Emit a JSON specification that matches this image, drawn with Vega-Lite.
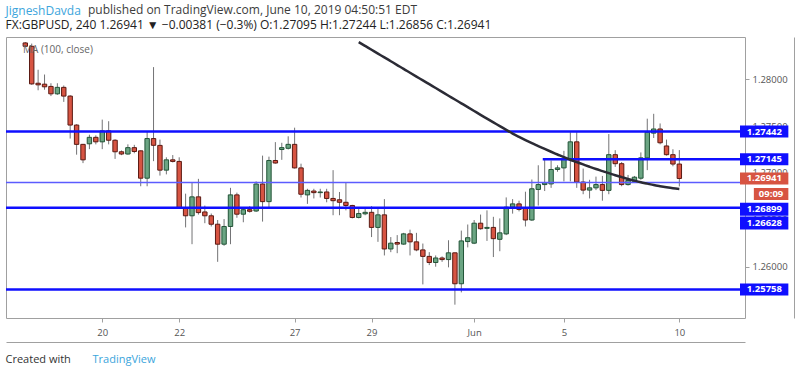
{
  "$schema": "https://vega.github.io/schema/vega-lite/v6.json",
  "width": 739,
  "height": 281,
  "autosize": {"type": "none"},
  "padding": {"left": 6, "top": 37, "right": 55, "bottom": 57},
  "background": "#ffffff",
  "config": {
    "font": "Open Sans",
    "view": {"stroke": "#a0a0a0", "strokeWidth": 1},
    "axis": {"grid": false, "labelFont": "Open Sans", "labelFontSize": 9.5, "labelColor": "#555555", "tickColor": "#a0a0a0", "domainColor": "#a0a0a0", "titleFont": "Open Sans", "titleFontWeight": "normal"}
  },
  "datasets": {
    "candles": [
      {"i": -12, "o": 1.28387, "h": 1.28397, "l": 1.28345, "c": 1.28351},
      {"i": -11, "o": 1.28351, "h": 1.28380, "l": 1.27940, "c": 1.27950},
      {"i": -10, "o": 1.27957, "h": 1.28101, "l": 1.27882, "c": 1.27940},
      {"i": -9, "o": 1.27947, "h": 1.28050, "l": 1.27888, "c": 1.27919},
      {"i": -8, "o": 1.27923, "h": 1.27957, "l": 1.27820, "c": 1.27844},
      {"i": -7, "o": 1.27844, "h": 1.27957, "l": 1.27833, "c": 1.27913},
      {"i": -6, "o": 1.27913, "h": 1.27933, "l": 1.27758, "c": 1.27820},
      {"i": -5, "o": 1.27820, "h": 1.27830, "l": 1.27367, "c": 1.27511},
      {"i": -4, "o": 1.27511, "h": 1.27520, "l": 1.27195, "c": 1.27305},
      {"i": -3, "o": 1.27305, "h": 1.27310, "l": 1.27105, "c": 1.27140},
      {"i": -2, "o": 1.27311, "h": 1.27408, "l": 1.27254, "c": 1.27380},
      {"i": -1, "o": 1.27380, "h": 1.27401, "l": 1.27305, "c": 1.27332},
      {"i": 0, "o": 1.27332, "h": 1.27569, "l": 1.27254, "c": 1.27449},
      {"i": 1, "o": 1.27449, "h": 1.27552, "l": 1.27305, "c": 1.27349},
      {"i": 2, "o": 1.27349, "h": 1.27360, "l": 1.27150, "c": 1.27226},
      {"i": 3, "o": 1.27226, "h": 1.27240, "l": 1.27190, "c": 1.27202},
      {"i": 4, "o": 1.27202, "h": 1.27305, "l": 1.27195, "c": 1.27270},
      {"i": 5, "o": 1.27270, "h": 1.27300, "l": 1.27210, "c": 1.27229},
      {"i": 6, "o": 1.27236, "h": 1.27240, "l": 1.26858, "c": 1.26944},
      {"i": 7, "o": 1.26944, "h": 1.27442, "l": 1.26858, "c": 1.27367},
      {"i": 8, "o": 1.27367, "h": 1.28129, "l": 1.27126, "c": 1.27295},
      {"i": 9, "o": 1.27294, "h": 1.27356, "l": 1.26972, "c": 1.27030},
      {"i": 10, "o": 1.27030, "h": 1.27167, "l": 1.26985, "c": 1.27140},
      {"i": 11, "o": 1.27140, "h": 1.27191, "l": 1.27112, "c": 1.27123},
      {"i": 12, "o": 1.27123, "h": 1.27167, "l": 1.26618, "c": 1.26625},
      {"i": 13, "o": 1.26625, "h": 1.26779, "l": 1.26419, "c": 1.26543},
      {"i": 14, "o": 1.26543, "h": 1.26893, "l": 1.26240, "c": 1.26745},
      {"i": 15, "o": 1.26745, "h": 1.26937, "l": 1.26556, "c": 1.26577},
      {"i": 16, "o": 1.26584, "h": 1.26652, "l": 1.26464, "c": 1.26543},
      {"i": 17, "o": 1.26543, "h": 1.26567, "l": 1.26429, "c": 1.26453},
      {"i": 18, "o": 1.26453, "h": 1.26498, "l": 1.26052, "c": 1.26240},
      {"i": 19, "o": 1.26240, "h": 1.26508, "l": 1.26223, "c": 1.26429},
      {"i": 20, "o": 1.26429, "h": 1.26841, "l": 1.26240, "c": 1.26766},
      {"i": 21, "o": 1.26766, "h": 1.26790, "l": 1.26522, "c": 1.26560},
      {"i": 22, "o": 1.26560, "h": 1.26625, "l": 1.26474, "c": 1.26608},
      {"i": 23, "o": 1.26608, "h": 1.26646, "l": 1.26577, "c": 1.26591},
      {"i": 24, "o": 1.26594, "h": 1.26910, "l": 1.26584, "c": 1.26882},
      {"i": 25, "o": 1.26882, "h": 1.27185, "l": 1.26481, "c": 1.26694},
      {"i": 26, "o": 1.26694, "h": 1.27174, "l": 1.26635, "c": 1.27133},
      {"i": 27, "o": 1.27133, "h": 1.27329, "l": 1.27099, "c": 1.27106},
      {"i": 28, "o": 1.27250, "h": 1.27322, "l": 1.27140, "c": 1.27270},
      {"i": 29, "o": 1.27263, "h": 1.27391, "l": 1.27250, "c": 1.27305},
      {"i": 30, "o": 1.27305, "h": 1.27483, "l": 1.27047, "c": 1.27054},
      {"i": 31, "o": 1.27054, "h": 1.27099, "l": 1.26738, "c": 1.26773},
      {"i": 32, "o": 1.26766, "h": 1.26831, "l": 1.26670, "c": 1.26814},
      {"i": 33, "o": 1.26807, "h": 1.26831, "l": 1.26728, "c": 1.26790},
      {"i": 34, "o": 1.26790, "h": 1.26831, "l": 1.26738, "c": 1.26797},
      {"i": 35, "o": 1.26797, "h": 1.26831, "l": 1.26687, "c": 1.26728},
      {"i": 36, "o": 1.26728, "h": 1.27030, "l": 1.26549, "c": 1.26704},
      {"i": 37, "o": 1.26714, "h": 1.26797, "l": 1.26549, "c": 1.26687},
      {"i": 38, "o": 1.26687, "h": 1.26893, "l": 1.26601, "c": 1.26653},
      {"i": 39, "o": 1.26653, "h": 1.26660, "l": 1.26515, "c": 1.26525},
      {"i": 40, "o": 1.26525, "h": 1.26625, "l": 1.26515, "c": 1.26567},
      {"i": 41, "o": 1.26564, "h": 1.26618, "l": 1.26549, "c": 1.26580},
      {"i": 42, "o": 1.26580, "h": 1.26646, "l": 1.26316, "c": 1.26419},
      {"i": 43, "o": 1.26419, "h": 1.26625, "l": 1.26265, "c": 1.26553},
      {"i": 44, "o": 1.26553, "h": 1.26721, "l": 1.26120, "c": 1.26189},
      {"i": 45, "o": 1.26189, "h": 1.26316, "l": 1.26155, "c": 1.26251},
      {"i": 46, "o": 1.26258, "h": 1.26337, "l": 1.26144, "c": 1.26241},
      {"i": 47, "o": 1.26241, "h": 1.26361, "l": 1.26234, "c": 1.26350},
      {"i": 48, "o": 1.26350, "h": 1.26395, "l": 1.26120, "c": 1.26265},
      {"i": 49, "o": 1.26265, "h": 1.26361, "l": 1.26165, "c": 1.26179},
      {"i": 50, "o": 1.26179, "h": 1.26247, "l": 1.25811, "c": 1.26110},
      {"i": 51, "o": 1.26110, "h": 1.26155, "l": 1.26017, "c": 1.26045},
      {"i": 52, "o": 1.26045, "h": 1.26120, "l": 1.26000, "c": 1.26093},
      {"i": 53, "o": 1.26093, "h": 1.26110, "l": 1.26052, "c": 1.26076},
      {"i": 54, "o": 1.26076, "h": 1.26282, "l": 1.25993, "c": 1.26148},
      {"i": 55, "o": 1.26148, "h": 1.26150, "l": 1.25595, "c": 1.25818},
      {"i": 56, "o": 1.25818, "h": 1.26385, "l": 1.25726, "c": 1.26275},
      {"i": 57, "o": 1.26268, "h": 1.26450, "l": 1.26206, "c": 1.26309},
      {"i": 58, "o": 1.26251, "h": 1.26498, "l": 1.26241, "c": 1.26464},
      {"i": 59, "o": 1.26464, "h": 1.26556, "l": 1.26395, "c": 1.26405},
      {"i": 60, "o": 1.26409, "h": 1.26601, "l": 1.26275, "c": 1.26419},
      {"i": 61, "o": 1.26419, "h": 1.26532, "l": 1.26103, "c": 1.26299},
      {"i": 62, "o": 1.26292, "h": 1.26515, "l": 1.26165, "c": 1.26361},
      {"i": 63, "o": 1.26350, "h": 1.26739, "l": 1.26337, "c": 1.26635},
      {"i": 64, "o": 1.26635, "h": 1.26721, "l": 1.26566, "c": 1.26670},
      {"i": 65, "o": 1.26670, "h": 1.26704, "l": 1.26590, "c": 1.26611},
      {"i": 66, "o": 1.26625, "h": 1.26800, "l": 1.26429, "c": 1.26498},
      {"i": 67, "o": 1.26498, "h": 1.26930, "l": 1.26488, "c": 1.26831},
      {"i": 68, "o": 1.26824, "h": 1.27082, "l": 1.26652, "c": 1.26876},
      {"i": 69, "o": 1.26876, "h": 1.27140, "l": 1.26807, "c": 1.26893},
      {"i": 70, "o": 1.26883, "h": 1.27133, "l": 1.26841, "c": 1.27037},
      {"i": 71, "o": 1.27037, "h": 1.27082, "l": 1.27013, "c": 1.27054},
      {"i": 72, "o": 1.27054, "h": 1.27236, "l": 1.26910, "c": 1.27150},
      {"i": 73, "o": 1.27150, "h": 1.27435, "l": 1.26910, "c": 1.27332},
      {"i": 74, "o": 1.27332, "h": 1.27435, "l": 1.26841, "c": 1.26903},
      {"i": 75, "o": 1.26903, "h": 1.27047, "l": 1.26773, "c": 1.26817},
      {"i": 76, "o": 1.26817, "h": 1.26927, "l": 1.26728, "c": 1.26841},
      {"i": 77, "o": 1.26841, "h": 1.26961, "l": 1.26817, "c": 1.26876},
      {"i": 78, "o": 1.26876, "h": 1.26968, "l": 1.26704, "c": 1.26814},
      {"i": 79, "o": 1.26814, "h": 1.27415, "l": 1.26773, "c": 1.27195},
      {"i": 80, "o": 1.27195, "h": 1.27243, "l": 1.27065, "c": 1.27099},
      {"i": 81, "o": 1.27099, "h": 1.27116, "l": 1.26858, "c": 1.26876},
      {"i": 82, "o": 1.26876, "h": 1.26979, "l": 1.26865, "c": 1.26920},
      {"i": 83, "o": 1.26910, "h": 1.26968, "l": 1.26900, "c": 1.26955},
      {"i": 84, "o": 1.26944, "h": 1.27219, "l": 1.26927, "c": 1.27161},
      {"i": 85, "o": 1.27161, "h": 1.27579, "l": 1.27030, "c": 1.27435},
      {"i": 86, "o": 1.27425, "h": 1.27631, "l": 1.27373, "c": 1.27469},
      {"i": 87, "o": 1.27469, "h": 1.27528, "l": 1.27305, "c": 1.27322},
      {"i": 88, "o": 1.27288, "h": 1.27356, "l": 1.27185, "c": 1.27195},
      {"i": 89, "o": 1.27195, "h": 1.27253, "l": 1.27071, "c": 1.27095},
      {"i": 90, "o": 1.27095, "h": 1.27244, "l": 1.26856, "c": 1.26941}
    ],
    "ma": [
      {"i": 40, "ma": 1.28396}, {"i": 41, "ma": 1.28355}, {"i": 42, "ma": 1.28314}, {"i": 43, "ma": 1.28273},
      {"i": 44, "ma": 1.28233}, {"i": 45, "ma": 1.28192}, {"i": 46, "ma": 1.28151}, {"i": 47, "ma": 1.28111},
      {"i": 48, "ma": 1.28069}, {"i": 49, "ma": 1.28028}, {"i": 50, "ma": 1.27988}, {"i": 51, "ma": 1.27947},
      {"i": 52, "ma": 1.27906}, {"i": 53, "ma": 1.27865}, {"i": 54, "ma": 1.27824}, {"i": 55, "ma": 1.27784},
      {"i": 56, "ma": 1.27743}, {"i": 57, "ma": 1.27702}, {"i": 58, "ma": 1.27661}, {"i": 59, "ma": 1.27620},
      {"i": 60, "ma": 1.27580}, {"i": 61, "ma": 1.27540}, {"i": 62, "ma": 1.27500}, {"i": 63, "ma": 1.27460},
      {"i": 64, "ma": 1.27420}, {"i": 65, "ma": 1.27385}, {"i": 66, "ma": 1.27351}, {"i": 67, "ma": 1.27318},
      {"i": 68, "ma": 1.27287}, {"i": 69, "ma": 1.27256}, {"i": 70, "ma": 1.27226}, {"i": 71, "ma": 1.27197},
      {"i": 72, "ma": 1.27168}, {"i": 73, "ma": 1.27141}, {"i": 74, "ma": 1.27116}, {"i": 75, "ma": 1.27091},
      {"i": 76, "ma": 1.27066}, {"i": 77, "ma": 1.27042}, {"i": 78, "ma": 1.27020}, {"i": 79, "ma": 1.26998},
      {"i": 80, "ma": 1.26976}, {"i": 81, "ma": 1.26956}, {"i": 82, "ma": 1.26936}, {"i": 83, "ma": 1.26918},
      {"i": 84, "ma": 1.26901}, {"i": 85, "ma": 1.26886}, {"i": 86, "ma": 1.26871}, {"i": 87, "ma": 1.26859},
      {"i": 88, "ma": 1.26848}, {"i": 89, "ma": 1.26838}, {"i": 90, "ma": 1.26830}
    ],
    "levels": [
      {"price": 1.27442},
      {"price": 1.27145, "from": 68.7},
      {"price": 1.26899},
      {"price": 1.26628},
      {"price": 1.25758}
    ],
    "tags": [
      {"tag": "last", "label": "1.26941", "price": 1.26941},
      {"tag": "countdown", "label": "09:09", "price": 1.26941}
    ]
  },
  "layer": [
    {
      "data": {"name": "candles"},
      "mark": {"type": "rule", "color": "#737375", "strokeWidth": 1},
      "encoding": {
        "x": {"field": "i", "type": "quantitative", "scale": {"domain": [-14.23, 99.46], "nice": false, "zero": false},
          "axis": {"orient": "bottom", "values": [0, 12, 30, 42, 58, 72, 90],
            "labelExpr": "datum.value == 0 ? '20' : datum.value == 12 ? '22' : datum.value == 30 ? '27' : datum.value == 42 ? '29' : datum.value == 58 ? 'Jun' : datum.value == 72 ? '5' : '10'",
            "tickSize": 4, "labelPadding": 5, "domain": false, "labelFlush": false,
            "title": "Created with", "titleX": -1, "titleY": 44, "titleAlign": "left", "titleAnchor": "start", "titleBaseline": "alphabetic", "titleFontSize": 11, "titleColor": "#333333"}},
        "y": {"field": "l", "type": "quantitative", "scale": {"domain": [1.25506, 1.28397], "nice": false, "zero": false},
          "axis": {"orient": "right", "values": [1.26, 1.265, 1.27, 1.275, 1.28], "format": ".5f", "tickSize": 4, "labelPadding": 3, "domain": false,
            "title": "JigneshDavda", "titleAngle": 0, "titleX": -740, "titleY": -23, "titleAlign": "left", "titleBaseline": "alphabetic", "titleFontSize": 12, "titleColor": "#3ca5dc"}},
        "y2": {"field": "h"}
      }
    },
    {
      "data": {"name": "candles"},
      "mark": {"type": "bar", "width": 4.4, "strokeWidth": 1},
      "encoding": {
        "x": {"field": "i", "type": "quantitative", "scale": {"domain": [-14.23, 99.46], "nice": false, "zero": false}, "axis": null},
        "y": {"field": "o", "type": "quantitative", "scale": {"domain": [1.25506, 1.28397], "nice": false, "zero": false}, "axis": null},
        "y2": {"field": "c"},
        "fill": {"condition": {"test": "datum.c >= datum.o", "value": "#6ba583"}, "value": "#d75442"},
        "stroke": {"condition": {"test": "datum.c >= datum.o", "value": "#225437"}, "value": "#5b1a13"}
      }
    },
    {
      "data": {"name": "levels"},
      "transform": [{"filter": "!isValid(datum.from) && datum.price != 1.26899"}],
      "mark": {"type": "rule", "color": "#0f0fff", "strokeWidth": 2.5},
      "encoding": {
        "y": {"field": "price", "type": "quantitative", "scale": {"domain": [1.25506, 1.28397], "nice": false, "zero": false},
          "axis": {"orient": "left", "labels": false, "ticks": false, "domain": false,
            "title": "TradingView", "titleAngle": 0, "titleX": 86, "titleY": 325, "titleAlign": "left", "titleBaseline": "alphabetic", "titleFontSize": 11, "titleColor": "#3ca5dc"}}
      }
    },
    {
      "data": {"name": "levels"},
      "transform": [{"filter": "datum.price == 1.26899"}],
      "mark": {"type": "rule", "color": "#5c5cff", "strokeWidth": 1.5},
      "encoding": {
        "y": {"field": "price", "type": "quantitative", "scale": {"domain": [1.25506, 1.28397], "nice": false, "zero": false}, "axis": null},
        "strokeDash": {"datum": " ", "type": "nominal", "scale": {"range": [[1, 0]]},
          "legend": {"orient": "none", "legendX": 82, "legendY": -32, "padding": 0,
            "title": "published on TradingView.com, June 10, 2019 04:50:51 EDT",
            "titleFont": "Open Sans", "titleFontSize": 12, "titleFontWeight": "normal", "titleColor": "#3c3c3c", "titleBaseline": "top", "titleLimit": 500,
            "labelOpacity": 0, "symbolOpacity": 0, "symbolSize": 0, "symbolStrokeWidth": 0}}
      }
    },
    {
      "data": {"name": "levels"},
      "transform": [{"filter": "isValid(datum.from)"}],
      "mark": {"type": "rule", "color": "#0f0fff", "strokeWidth": 2.5},
      "encoding": {
        "x": {"field": "from", "type": "quantitative", "scale": {"domain": [-14.23, 99.46], "nice": false, "zero": false},
          "axis": {"orient": "bottom", "offset": 24, "labels": false, "ticks": false, "domain": true, "title": null}},
        "x2": {"datum": 99.46},
        "y": {"field": "price", "type": "quantitative", "scale": {"domain": [1.25506, 1.28397], "nice": false, "zero": false},
          "axis": {"orient": "right", "offset": 49, "labels": false, "ticks": false, "domain": true, "title": null}}
      }
    },
    {
      "data": {"name": "ma"},
      "mark": {"type": "line", "strokeWidth": 2.5, "interpolate": "monotone"},
      "encoding": {
        "x": {"field": "i", "type": "quantitative", "scale": {"domain": [-14.23, 99.46], "nice": false, "zero": false},
          "axis": {"orient": "top", "labels": false, "ticks": false, "domain": false,
            "title": "FX:GBPUSD, 240  1.26941 ▼ −0.00381 (−0.3%)  O:1.27095  H:1.27244  L:1.26856  C:1.26941",
            "titleX": -1, "titleY": -9, "titleAlign": "left", "titleBaseline": "alphabetic", "titleFontSize": 12, "titleColor": "#222222"}},
        "y": {"field": "ma", "type": "quantitative", "scale": {"domain": [1.25506, 1.28397], "nice": false, "zero": false}, "axis": null},
        "color": {"datum": "MA (100, close)", "type": "nominal", "scale": {"range": ["#2b2b35"]},
          "legend": {"orient": "none", "legendX": 7, "legendY": 8, "title": null, "symbolSize": 0, "symbolStrokeWidth": 0, "symbolOpacity": 0, "labelOffset": 0, "padding": 0, "labelFontSize": 10, "labelColor": "#666666", "labelFont": "Open Sans"}}
      }
    },
    {
      "data": {"name": "levels"},
      "transform": [{"filter": "datum.price != 1.26899 && datum.price != 1.26628"}],
      "layer": [
        {
          "mark": {"type": "bar", "orient": "horizontal", "height": 12, "color": "#0f0fff"},
          "encoding": {
            "x": {"datum": 99.46, "type": "quantitative", "scale": {"domain": [-14.23, 99.46], "nice": false, "zero": false}, "axis": null},
            "x2": {"datum": 107},
            "y": {"field": "price", "type": "quantitative", "scale": {"domain": [1.25506, 1.28397], "nice": false, "zero": false}, "axis": null}
          }
        },
        {
          "mark": {"type": "text", "align": "left", "baseline": "middle", "color": "#ffffff", "fontSize": 9.5, "fontWeight": "bold"},
          "encoding": {
            "x": {"datum": 100.5, "type": "quantitative", "scale": {"domain": [-14.23, 99.46], "nice": false, "zero": false}, "axis": null},
            "y": {"field": "price", "type": "quantitative", "scale": {"domain": [1.25506, 1.28397], "nice": false, "zero": false}, "axis": null},
            "text": {"field": "price", "type": "quantitative", "format": ".5f"}
          }
        }
      ]
    },
    {
      "data": {"name": "levels"},
      "transform": [{"filter": "datum.price == 1.26899"}],
      "layer": [
        {
          "mark": {"type": "bar", "orient": "horizontal", "height": 13, "color": "#0f0fff", "yOffset": 26.8},
          "encoding": {
            "x": {"datum": 99.46, "type": "quantitative", "scale": {"domain": [-14.23, 99.46], "nice": false, "zero": false}, "axis": null},
            "x2": {"datum": 107},
            "y": {"field": "price", "type": "quantitative", "scale": {"domain": [1.25506, 1.28397], "nice": false, "zero": false}, "axis": null}
          }
        },
        {
          "mark": {"type": "text", "align": "left", "baseline": "middle", "color": "#ffffff", "fontSize": 9.5, "fontWeight": "bold", "yOffset": 26.8},
          "encoding": {
            "x": {"datum": 100.5, "type": "quantitative", "scale": {"domain": [-14.23, 99.46], "nice": false, "zero": false}, "axis": null},
            "y": {"field": "price", "type": "quantitative", "scale": {"domain": [1.25506, 1.28397], "nice": false, "zero": false}, "axis": null},
            "text": {"field": "price", "type": "quantitative", "format": ".5f"}
          }
        }
      ]
    },
    {
      "data": {"name": "levels"},
      "transform": [{"filter": "datum.price == 1.26628"}],
      "layer": [
        {
          "mark": {"type": "bar", "orient": "horizontal", "height": 13, "color": "#0f0fff", "yOffset": 15.3},
          "encoding": {
            "x": {"datum": 99.46, "type": "quantitative", "scale": {"domain": [-14.23, 99.46], "nice": false, "zero": false}, "axis": null},
            "x2": {"datum": 107},
            "y": {"field": "price", "type": "quantitative", "scale": {"domain": [1.25506, 1.28397], "nice": false, "zero": false}, "axis": null}
          }
        },
        {
          "mark": {"type": "text", "align": "left", "baseline": "middle", "color": "#ffffff", "fontSize": 9.5, "fontWeight": "bold", "yOffset": 15.3},
          "encoding": {
            "x": {"datum": 100.5, "type": "quantitative", "scale": {"domain": [-14.23, 99.46], "nice": false, "zero": false}, "axis": null},
            "y": {"field": "price", "type": "quantitative", "scale": {"domain": [1.25506, 1.28397], "nice": false, "zero": false}, "axis": null},
            "text": {"field": "price", "type": "quantitative", "format": ".5f"}
          }
        }
      ]
    },
    {
      "data": {"name": "tags"},
      "transform": [{"filter": "datum.tag == 'last'"}],
      "layer": [
        {
          "mark": {"type": "bar", "orient": "horizontal", "height": 12, "color": "#d75442"},
          "encoding": {
            "x": {"datum": 99.46, "type": "quantitative", "scale": {"domain": [-14.23, 99.46], "nice": false, "zero": false}, "axis": null},
            "x2": {"datum": 107},
            "y": {"field": "price", "type": "quantitative", "scale": {"domain": [1.25506, 1.28397], "nice": false, "zero": false}, "axis": null}
          }
        },
        {
          "mark": {"type": "text", "align": "left", "baseline": "middle", "color": "#ffffff", "fontSize": 9.5, "fontWeight": "bold"},
          "encoding": {
            "x": {"datum": 100.5, "type": "quantitative", "scale": {"domain": [-14.23, 99.46], "nice": false, "zero": false}, "axis": null},
            "y": {"field": "price", "type": "quantitative", "scale": {"domain": [1.25506, 1.28397], "nice": false, "zero": false}, "axis": null},
            "text": {"field": "label", "type": "nominal"}
          }
        }
      ]
    },
    {
      "data": {"name": "tags"},
      "transform": [{"filter": "datum.tag == 'countdown'"}],
      "layer": [
        {
          "mark": {"type": "bar", "orient": "horizontal", "height": 12, "color": "#d75442", "yOffset": 15.5},
          "encoding": {
            "x": {"datum": 101.62, "type": "quantitative", "scale": {"domain": [-14.23, 99.46], "nice": false, "zero": false}, "axis": null},
            "x2": {"datum": 107},
            "y": {"field": "price", "type": "quantitative", "scale": {"domain": [1.25506, 1.28397], "nice": false, "zero": false}, "axis": null}
          }
        },
        {
          "mark": {"type": "text", "align": "center", "baseline": "middle", "color": "#ffffff", "fontSize": 9.5, "fontWeight": "bold", "yOffset": 15.5},
          "encoding": {
            "x": {"datum": 104.3, "type": "quantitative", "scale": {"domain": [-14.23, 99.46], "nice": false, "zero": false}, "axis": null},
            "y": {"field": "price", "type": "quantitative", "scale": {"domain": [1.25506, 1.28397], "nice": false, "zero": false}, "axis": null},
            "text": {"field": "label", "type": "nominal"}
          }
        }
      ]
    }
  ],
  "resolve": {"axis": {"x": "independent", "y": "independent"}}
}
